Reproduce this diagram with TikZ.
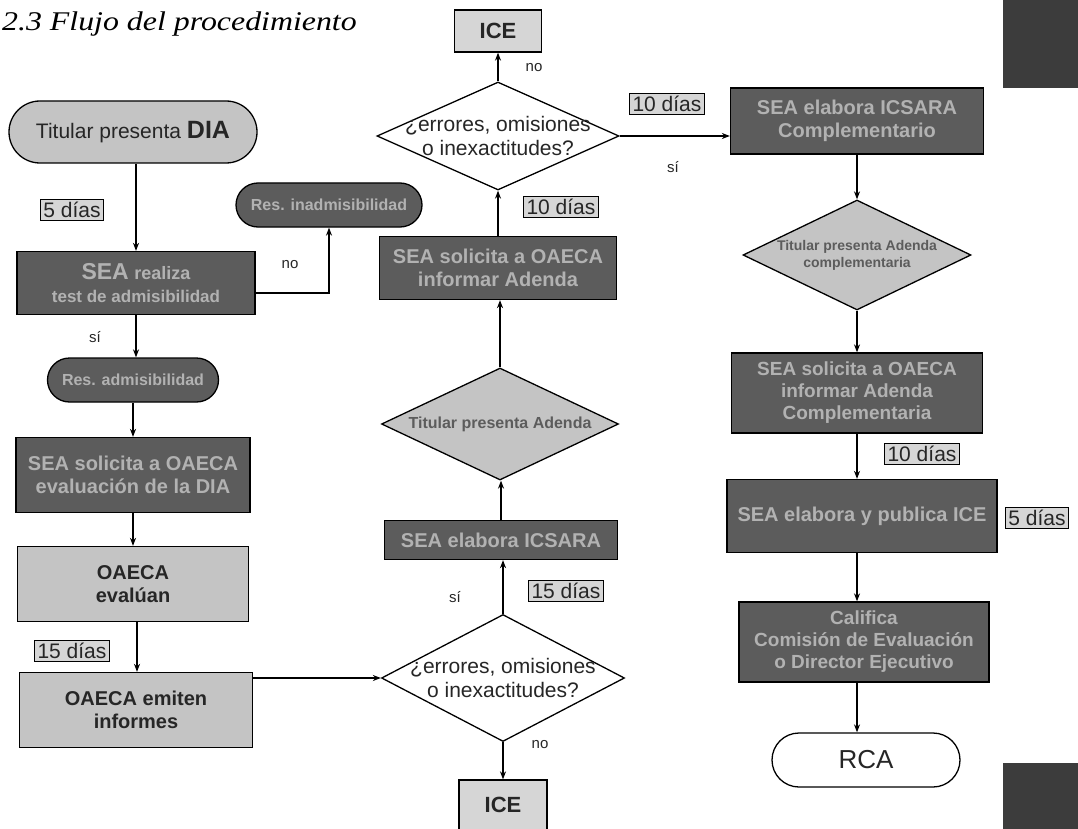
\documentclass[tikz,border=0pt]{standalone}
\usepackage{fontspec}
\setmainfont{Liberation Sans}
\newfontfamily\titlefont{Liberation Serif}
\usetikzlibrary{shapes.geometric,shapes.misc,arrows.meta}
\definecolor{dkfill}{HTML}{5C5C5C}
\definecolor{dktext}{HTML}{B2B2B2}
\definecolor{ltfill}{HTML}{C4C4C4}
\definecolor{ltfillb}{HTML}{D6D6D6}
\definecolor{lttext}{HTML}{262626}
\definecolor{sqfill}{HTML}{3C3C3C}
\newcommand{\fsz}[2]{\fontsize{#1}{#2}\selectfont}
\tikzset{
  base/.style={draw=black, line width=1.3pt, align=center, inner sep=1pt},
  darkbox/.style={base, rectangle, fill=dkfill, text=dktext, font=\bfseries\fsz{20}{23}},
  lightbox/.style={base, rectangle, fill=ltfill, text=lttext, font=\bfseries\fsz{20}{23}},
  stad/.style={base, rounded rectangle},
  dec/.style={base, diamond, inner sep=0pt, fill=white},
  dectext/.style={align=center, inner sep=0pt, font=\fsz{21}{24}, text=lttext},
  lbl/.style={draw=black, line width=1.1pt, fill=ltfillb, inner sep=3pt, font=\fsz{21}{22}, text=lttext},
  yn/.style={font=\fsz{15}{17}, inner sep=0pt, text=lttext},
  arr/.style={-{Stealth[length=8pt,width=6pt]}, line width=1.2pt},
}
\begin{document}
\begin{tikzpicture}[x=1pt,y=-1pt]
\useasboundingbox (0,0) rectangle (1078,829);
% page tabs
\fill[sqfill] (1003,0) rectangle (1078,88);
\fill[sqfill] (1003,763) rectangle (1078,829);
% title
\node[anchor=west, inner sep=0pt, font=\titlefont\itshape\fsz{27}{30}] (title) at (2,24) {\scalebox{1.18}[1]{2.3 Flujo del procedimiento}};

% ---------- left column ----------
\node[stad, fill=ltfill, text=lttext, minimum width=250pt, minimum height=62pt] (dia) at (133,132)
  {\fsz{21}{24}Titular presenta \fsz{25}{28}\textbf{DIA}};
\node[lbl] (d5a) at (72,210) {5 días};
\node[darkbox, minimum width=238pt, minimum height=63pt] (sea1) at (136,283)
  {{\fsz{23}{25}SEA} {\fsz{18}{20}realiza}\\{\fsz{17}{20}test de admisibilidad}};
\node[stad, fill=dkfill, text=dktext, font=\bfseries\fsz{16}{18}, minimum width=188pt, minimum height=44pt] (inad) at (329,205)
  {Res. inadmisibilidad};
\node[yn] (no1) at (290,265) {no};
\node[yn] (si1) at (95,337) {sí};
\node[stad, fill=dkfill, text=dktext, font=\bfseries\fsz{16}{18}, minimum width=173pt, minimum height=44pt] (adm) at (133,380)
  {Res. admisibilidad};
\node[darkbox, minimum width=234pt, minimum height=75pt] (sol1) at (133,475)
  {SEA solicita a OAECA\\evaluación de la DIA};
\node[lightbox, minimum width=231pt, minimum height=75pt] (eval) at (133,584)
  {OAECA\\evalúan};
\node[lbl] (d15a) at (72,651) {15 días};
\node[lightbox, minimum width=233pt, minimum height=75pt] (emit) at (136,710)
  {OAECA emiten\\informes};

% ---------- middle column ----------
\node[base, fill=ltfillb, text=lttext, font=\bfseries\fsz{22}{24}, minimum width=87pt, minimum height=42pt] (ice1) at (498,31) {ICE};
\node[dec, minimum width=242pt, minimum height=108pt] (q1) at (498,136) {};
\node[dectext] (q1t) at (q1) {¿errores, omisiones\\o inexactitudes?};
\node[yn] (no2) at (534,68) {no};
\node[lbl] (d10b) at (667,104) {10 días};
\node[yn] (si2) at (673,167) {sí};
\node[lbl] (d10c) at (561,207) {10 días};
\node[darkbox, minimum width=237pt, minimum height=63pt] (sol2) at (498,268)
  {SEA solicita a OAECA\\informar Adenda};
\node[dec, fill=ltfill, minimum width=237pt, minimum height=112pt] (q2) at (500,424) {};
\node[dectext, font=\bfseries\fsz{16}{18}, text=dkfill] (q2t) at (q2) {Titular presenta Adenda};
\node[darkbox, minimum width=233pt, minimum height=39pt] (icsara) at (501,540)
  {SEA elabora ICSARA};
\node[lbl] (d15b) at (566,591) {15 días};
\node[yn] (si3) at (455,597) {sí};
\node[dec, minimum width=243pt, minimum height=127pt] (q3) at (503,678) {};
\node[dectext] (q3t) at (q3) {¿errores, omisiones\\o inexactitudes?};
\node[yn] (no3) at (540,745) {no};
\node[base, fill=ltfillb, text=lttext, font=\bfseries\fsz{22}{24}, minimum width=88pt, minimum height=50pt] (ice2) at (503,805) {ICE};

% ---------- right column ----------
\node[darkbox, minimum width=253pt, minimum height=66pt] (comp) at (857,121)
  {SEA elabora ICSARA\\Complementario};
\node[dec, fill=ltfill, minimum width=228pt, minimum height=110pt] (q4) at (857,255) {};
\node[dectext, font=\bfseries\fsz{14}{17}, text=dkfill] (q4t) at (q4) {Titular presenta Adenda\\complementaria};
\node[darkbox, font=\bfseries\fsz{19}{22}, minimum width=251pt, minimum height=80pt] (sol3) at (857,393)
  {SEA solicita a OAECA\\informar Adenda\\Complementaria};
\node[lbl] (d10d) at (922,454) {10 días};
\node[darkbox, minimum width=270pt, minimum height=73pt] (pub) at (862,516)
  {SEA elabora y publica ICE};
\node[lbl] (d5b) at (1037,518) {5 días};
\node[darkbox, font=\bfseries\fsz{19}{22}, minimum width=250pt, minimum height=80pt] (cal) at (864,642)
  {Califica\\Comisión de Evaluación\\o Director Ejecutivo};
\node[stad, fill=white, text=lttext, font=\fsz{26}{28}, minimum width=190pt, minimum height=54pt] (rca) at (866,760) {RCA};

% ---------- connectors ----------
\draw[arr] (dia.south -| sea1.north) -- (sea1.north);
\draw[arr] ([yshift=-10pt]sea1.east) -| (inad.south);
\draw[arr] (sea1.south) -- (sea1.south |- adm.north);
\draw[arr] (adm.south) -- (adm.south |- sol1.north);
\draw[arr] (sol1.south) -- (sol1.south |- eval.north);
\draw[arr] ([xshift=4pt]eval.south) -- ([xshift=4pt]eval.south |- emit.north);
\draw[arr] (emit.east |- q3.west) -- (q3.west);

\draw[arr] (q3.south) -- (q3.south |- ice2.north);
\draw[arr] (q3.north) -- (q3.north |- icsara.south);
\draw[arr] (icsara.north) -- (icsara.north |- q2.south);
\draw[arr] (q2.north) -- (q2.north |- sol2.south);
\draw[arr] (sol2.north) -- (sol2.north |- q1.south);
\draw[arr] (q1.north) -- (q1.north |- ice1.south);
\draw[arr] (q1.east) -- (q1.east -| comp.west);

\draw[arr] (comp.south) -- (comp.south |- q4.north);
\draw[arr] (q4.south) -- (q4.south |- sol3.north);
\draw[arr] (sol3.south) -- (sol3.south |- pub.north);
\draw[arr] (sol3.south |- pub.south) -- (sol3.south |- cal.north);
\draw[arr] (sol3.south |- cal.south) -- (sol3.south |- rca.north);
\end{tikzpicture}
\end{document}
